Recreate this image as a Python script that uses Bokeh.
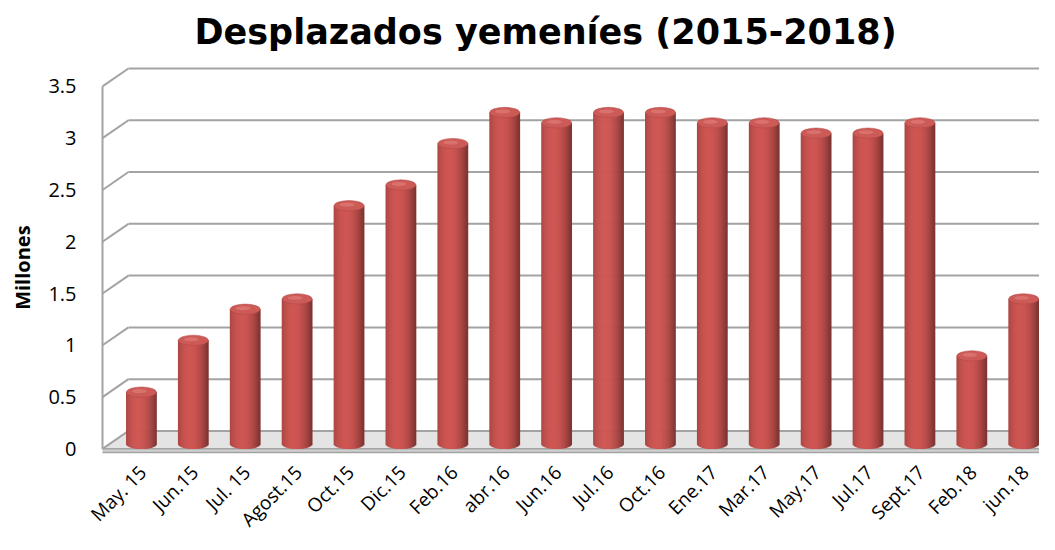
import numpy as np
from bokeh.plotting import figure
from bokeh.models import Range1d, ColumnDataSource
from bokeh.core.properties import value
from bokeh.embed import file_html
from bokeh.resources import INLINE

# ---------------- data ----------------
labels = ["May. 15", "Jun.15", "Jul. 15", "Agost.15", "Oct.15", "Dic.15", "Feb.16",
          "abr.16", "Jun.16", "Jul.16", "Oct.16", "Ene.17", "Mar.17", "May.17",
          "Jul.17", "Sept.17", "Feb.18", "jun.18"]
values = [0.5, 1.0, 1.3, 1.4, 2.3, 2.5, 2.9, 3.2, 3.1, 3.2, 3.2, 3.1, 3.1, 3.0,
          3.0, 3.1, 0.85, 1.4]
y_ticks = [0, 0.5, 1, 1.5, 2, 2.5, 3, 3.5]
y_tick_labels = ["0", "0.5", "1", "1.5", "2", "2.5", "3", "3.5"]
title_text = "Desplazados yemeníes (2015-2018)"
y_title = "Millones"

# ---------------- geometry (styling) ----------------
W, H = 1039, 534
n = len(values)
xs = np.arange(n, dtype=float)
vals = np.array(values, dtype=float)
LEFT, TOP = 102, 58          # px position of the front-left corner / frame top
PX_PER_X = 51.9
PX_PER_Y = 104.0
ZERO_PX = 448                # px row of value 0 on the front plane
X0 = -0.75                   # front-left corner of the 3D box (data x)
XS = X0 - LEFT / PX_PER_X    # frame starts at the left edge of the plot
X1 = X0 + (W - LEFT) / PX_PER_X
Y1 = (ZERO_PX - TOP) / PX_PER_Y
Y0 = -(H - ZERO_PX) / PX_PER_Y
DX, DY = 0.5, 0.173          # depth offset to the back wall
XR = X0 + (1042 - LEFT) / PX_PER_X   # front-right corner of floor
BASE = 0.048                 # cylinders sit mid-depth
BW = 0.58                    # cylinder width
CAP = 0.1                    # ellipse height
GRID = "#A3A3A3"
FONT = "Open Sans"

p = figure(width=W, height=H,
           x_range=Range1d(XS, X1), y_range=Range1d(Y0, Y1),
           output_backend="svg", toolbar_location=None,
           min_border_left=0, min_border_right=0,
           min_border_top=TOP, min_border_bottom=0)
p.outline_line_color = None
p.grid.visible = False
p.xaxis.visible = False
p.yaxis.visible = False
p.background_fill_color = "white"
p.border_fill_color = "white"

# title
p.title.text = title_text
p.title.align = "left"
p.title.offset = 194
p.title.standoff = 18
p.title.text_font = "DejaVu Sans"
p.title.text_font_size = "35px"
p.title.text_font_style = "bold"
p.title.text_color = "black"

# floor
p.patch([X0, XR, XR + DX, X0 + DX], [0, 0, DY, DY], fill_color="#E4E4E4",
        line_color=None)
p.patch([X0, XR, XR, X0], [0, 0, -0.035, -0.035], fill_color="#CFCFCF",
        line_color=None)
p.patch([XR, XR + DX, XR + DX, XR], [0, DY, DY - 0.035, -0.035],
        fill_color="#C4C4C4", line_color=None)
p.segment(x0=[X0, X0, XR], y0=[0, -0.035, 0], x1=[XR, XR, XR + DX],
          y1=[0, -0.035, DY], line_color=GRID, line_width=1.5)

# back wall + side wall gridlines
yt = np.array(y_ticks, dtype=float)
p.segment(x0=np.full(len(yt), X0), y0=yt, x1=np.full(len(yt), X0 + DX), y1=yt + DY,
          line_color=GRID, line_width=2)
p.segment(x0=np.full(len(yt), X0 + DX), y0=yt + DY, x1=np.full(len(yt), X1 + 1),
          y1=yt + DY, line_color=GRID, line_width=2)
p.segment(x0=[X0], y0=[0], x1=[X0], y1=[max(y_ticks)], line_color=GRID, line_width=2)

# value-axis tick labels on the front edge of the side wall
ytick_src = ColumnDataSource(dict(x=np.full(len(yt), X0 - 26 / PX_PER_X), y=yt,
                                  text=y_tick_labels))
p.text(x="x", y="y", text="text", source=ytick_src, text_align="right",
       text_baseline="middle", text_font=value(FONT), text_font_size="20px",
       text_color="black")

# value-axis title
p.text(x=[X0 - 80 / PX_PER_X], y=[(min(y_ticks) + max(y_ticks)) / 2], text=[y_title],
       angle=np.pi / 2, text_align="center", text_baseline="middle",
       text_font=value(FONT), text_font_size="20px", text_font_style="bold",
       text_color="black")

# cylinders: vertical shaded strips
NS = 30
sx, sb, st, sc, sw = [], [], [], [], []
base_rgb = np.array([192, 80, 77], dtype=float)
for k in range(NS):
    t = -1 + (2 * k + 1) / NS
    f = 0.64 + 0.44 * (1 - ((t + 0.2) / 1.2) ** 2)
    rgb = np.clip(base_rgb * f, 0, 255).astype(int)
    col = "#%02x%02x%02x" % tuple(rgb)
    for i in range(n):
        sx.append(xs[i] + t * BW / 2)
        sb.append(BASE - CAP / 2 * np.sqrt(max(0.0, 1 - t * t)))
        st.append(vals[i] + BASE)
        sc.append(col)
        sw.append(BW / NS * 1.7)
src = ColumnDataSource(dict(x=sx, bottom=sb, top=st, color=sc, w=sw))
p.vbar(x="x", width="w", bottom="bottom", top="top", fill_color="color",
       line_color=None, source=src)

# caps
p.ellipse(x=xs, y=vals + BASE, width=BW, height=CAP, fill_color="#CC5B57",
          line_color="#B04541", line_width=0.5)
p.ellipse(x=xs - 0.04, y=vals + BASE + 0.01, width=BW * 0.5, height=CAP * 0.38,
          fill_color="#DE7773", fill_alpha=0.8, line_color=None)

# category labels (rotated 45°), placed under each cylinder
lab_src = ColumnDataSource(dict(x=xs - 0.15, y=np.full(n, -0.105), text=labels))
p.text(x="x", y="y", text="text", source=lab_src, angle=np.pi / 4,
       text_align="right", text_baseline="top", text_font=value(FONT),
       text_font_size="19px", text_color="black")

open("out.html", "w").write(file_html(p, INLINE))
